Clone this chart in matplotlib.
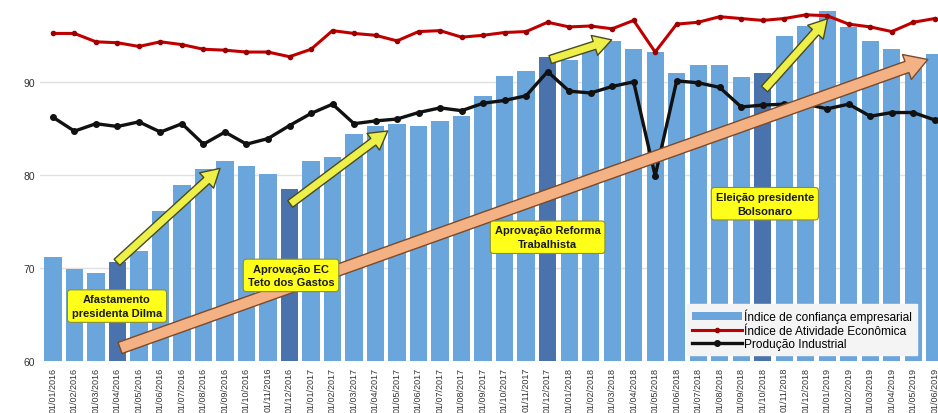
import matplotlib
matplotlib.use("Agg")
import matplotlib.pyplot as plt

plt.rcParams['font.family'] = ['Liberation Sans', 'DejaVu Sans']

# Monthly series, Jan/2016 - Jun/2019
months = [f"01/{m:02d}/{y}" for y in (2016, 2017, 2018, 2019) for m in range(1, 13)][:42]

confianca = [71.2, 69.9, 69.5, 70.6, 71.8, 76.1, 78.9, 80.6, 81.5, 81.0,
             80.1, 78.5, 81.5, 81.9, 84.4, 85.3, 85.5, 85.3, 85.8, 86.3,
             88.5, 90.6, 91.2, 92.7, 92.3, 93.5, 94.4, 93.5, 93.2, 91.0,
             91.8, 91.8, 90.5, 90.9, 94.9, 96.0, 97.6, 95.9, 94.4, 93.5,
             92.5, 93.0]

atividade = [95.2, 95.2, 94.3, 94.2, 93.8, 94.3, 94.0, 93.5, 93.4, 93.2,
             93.2, 92.7, 93.5, 95.5, 95.2, 95.0, 94.4, 95.4, 95.5, 94.8,
             95.0, 95.3, 95.4, 96.4, 95.9, 96.0, 95.7, 96.6, 93.2, 96.2,
             96.4, 97.0, 96.8, 96.6, 96.8, 97.2, 97.1, 96.2, 95.9, 95.4,
             96.4, 96.8]

producao = [86.2, 84.7, 85.5, 85.2, 85.7, 84.6, 85.5, 83.3, 84.6, 83.3,
            83.9, 85.3, 86.6, 87.6, 85.5, 85.8, 86.0, 86.7, 87.2, 86.9,
            87.7, 88.0, 88.5, 91.1, 89.0, 88.8, 89.5, 90.0, 79.9, 90.1,
            89.9, 89.4, 87.3, 87.5, 87.6, 87.6, 87.1, 87.6, 86.3, 86.7,
            86.7, 85.9]

# Months marked by a political event
destaques = [3, 11, 23, 33]

eventos = ["Afastamento\npresidenta Dilma",
           "Aprovação EC\nTeto dos Gastos",
           "Aprovação Reforma\nTrabalhista",
           "Eleição presidente\nBolsonaro"]

fig = plt.figure(figsize=(9.38, 4.14), dpi=100)
ax = fig.add_axes([40 / 938, 52 / 414, 898 / 938, 362 / 414])

x = list(range(len(months)))
cores = ['#4a72ad' if i in destaques else '#6aa6dc' for i in x]
barras = ax.bar(x, confianca, width=0.8, color=cores, zorder=2,
                label='Índice de confiança empresarial')
l_ativ, = ax.plot(x, atividade, color='#c00000', lw=2.2, marker='o', ms=3,
                  mfc='#9a0000', mec='#9a0000', zorder=4,
                  label='Índice de Atividade Econômica')
l_prod, = ax.plot(x, producao, color='#111111', lw=2.4, marker='o', ms=4,
                  zorder=4, label='Produção Industrial')

ax.set_xlim(-0.6, 41.15)
ax.set_ylim(60, 98.9)
ax.set_yticks([60, 70, 80, 90])
ax.yaxis.grid(True, color='#e0e0e0', lw=1, zorder=0)
ax.set_axisbelow(True)
ax.set_xticks(x)
ax.set_xticklabels(months, rotation=90, fontsize=6.5, color='#333333')
ax.tick_params(axis='y', labelsize=7.5, colors='#333333', length=0)
ax.tick_params(axis='x', length=0, pad=4)
for s in ax.spines.values():
    s.set_visible(False)

# Long-term trend arrow
ax.annotate('', xy=(40.8, 92.5), xytext=(3.0, 61.3),
            arrowprops=dict(arrowstyle='simple,head_length=1.6,head_width=1.9,tail_width=0.85',
                            fc='#f4b183', ec='#7a4a2a', lw=1.0, mutation_scale=10),
            zorder=5)

# Short-term event arrows
setas = [((2.88, 70.4), (7.86, 80.9)),
         ((10.93, 76.7), (15.67, 84.9)),
         ((23.0, 92.3), (26.1, 94.6)),
         ((33.0, 89.0), (36.1, 97.0))]
for cauda, ponta in setas:
    ax.annotate('', xy=ponta, xytext=cauda,
                arrowprops=dict(arrowstyle='simple,head_length=1.3,head_width=1.5,tail_width=0.6',
                                fc='#eef04a', ec='#4a4a20', lw=1.0, mutation_scale=10),
                zorder=6)

posicoes = [(2.98, 65.9), (11.07, 69.2), (23.0, 73.3), (33.1, 76.9)]
for (px, py), texto in zip(posicoes, eventos):
    ax.text(px, py, texto, ha='center', va='center', fontsize=8,
            fontweight='bold', color='#1a1a1a', linespacing=1.45, zorder=7,
            bbox=dict(boxstyle='round,pad=0.4,rounding_size=0.3',
                      fc='#ffff1a', ec='#8a8a40', lw=0.8))

leg = ax.legend(handles=[barras, l_ativ, l_prod],
                loc='lower right', bbox_to_anchor=(0.983, 0.0), fontsize=8.6,
                handlelength=4.2, handletextpad=0.15, labelspacing=0.12,
                borderpad=0.4, frameon=True, fancybox=False,
                facecolor='#f4f4f4', edgecolor='#f4f4f4', framealpha=1)
leg.set_zorder(8)

fig.savefig('out.png', dpi=100)
